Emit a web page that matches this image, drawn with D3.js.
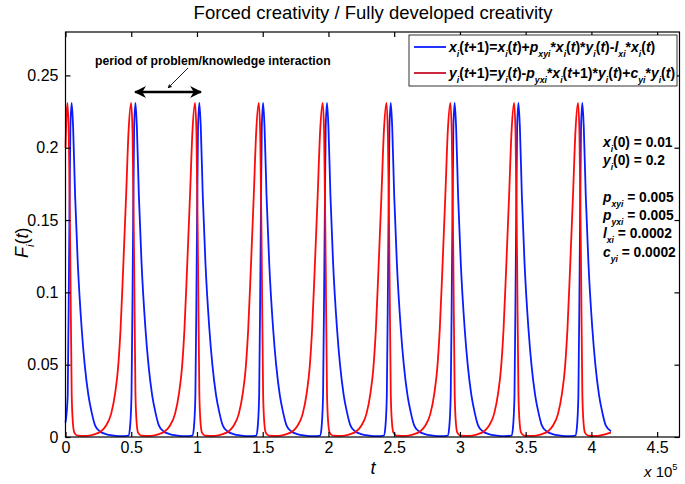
<!DOCTYPE html>
<html lang="en">
<head>
<meta charset="UTF-8" />
<title>Forced creativity</title>
<script src="https://d3js.org/d3.v7.min.js"></script>
<style>
  body { margin: 0; background: #fff; }
  svg text { font-family: "Liberation Sans", Arial, sans-serif; white-space: pre; }
</style>
</head>
<body>
<div id="graph-space"></div>
<script>
  // values, t in units of 1e5
  const redT = [
    0, 0.005, 0.014, 0.025, 0.037, 0.047, 0.056, 0.067, 0.090,
    0.164, 0.225, 0.271, 0.309, 0.347, 0.377, 0.400, 0.419, 0.438, 0.461, 0.480, 0.499, 0.510, 0.522, 0.532, 0.541, 0.552, 0.575,
    0.650, 0.711, 0.757, 0.795, 0.833, 0.863, 0.886, 0.905, 0.924, 0.947, 0.966, 0.985, 0.996, 1.008, 1.018, 1.027, 1.038, 1.061,
    1.135, 1.196, 1.242, 1.280, 1.318, 1.348, 1.371, 1.390, 1.409, 1.432, 1.451, 1.470, 1.481, 1.493, 1.503, 1.512, 1.523, 1.546,
    1.621, 1.682, 1.728, 1.766, 1.804, 1.834, 1.857, 1.876, 1.895, 1.918, 1.937, 1.956, 1.967, 1.979, 1.989, 1.998, 2.009, 2.032,
    2.106, 2.167, 2.213, 2.251, 2.289, 2.319, 2.342, 2.361, 2.380, 2.403, 2.422, 2.441, 2.452, 2.464, 2.474, 2.483, 2.494, 2.517,
    2.592, 2.653, 2.699, 2.737, 2.775, 2.805, 2.828, 2.847, 2.866, 2.889, 2.908, 2.927, 2.938, 2.950, 2.960, 2.969, 2.980, 3.003,
    3.077, 3.138, 3.184, 3.222, 3.260, 3.290, 3.313, 3.332, 3.351, 3.374, 3.393, 3.412, 3.423, 3.435, 3.445, 3.454, 3.465, 3.488,
    3.563, 3.624, 3.670, 3.708, 3.746, 3.776, 3.799, 3.818, 3.837, 3.860, 3.879, 3.898, 3.909, 3.921, 3.931, 3.940, 3.951, 3.974,
    4.049, 4.110, 4.149
  ];
  const redF = [
    0.200, 0.216, 0.231, 0.210, 0.120, 0.030, 0.010, 0.003, 0.001,
    0.0008, 0.002, 0.004, 0.008, 0.016, 0.030, 0.048, 0.075, 0.115, 0.167, 0.212, 0.231, 0.210, 0.120, 0.030, 0.010, 0.003, 0.001,
    0.0008, 0.002, 0.004, 0.008, 0.016, 0.030, 0.048, 0.075, 0.115, 0.167, 0.212, 0.231, 0.210, 0.120, 0.030, 0.010, 0.003, 0.001,
    0.0008, 0.002, 0.004, 0.008, 0.016, 0.030, 0.048, 0.075, 0.115, 0.167, 0.212, 0.231, 0.210, 0.120, 0.030, 0.010, 0.003, 0.001,
    0.0008, 0.002, 0.004, 0.008, 0.016, 0.030, 0.048, 0.075, 0.115, 0.167, 0.212, 0.231, 0.210, 0.120, 0.030, 0.010, 0.003, 0.001,
    0.0008, 0.002, 0.004, 0.008, 0.016, 0.030, 0.048, 0.075, 0.115, 0.167, 0.212, 0.231, 0.210, 0.120, 0.030, 0.010, 0.003, 0.001,
    0.0008, 0.002, 0.004, 0.008, 0.016, 0.030, 0.048, 0.075, 0.115, 0.167, 0.212, 0.231, 0.210, 0.120, 0.030, 0.010, 0.003, 0.001,
    0.0008, 0.002, 0.004, 0.008, 0.016, 0.030, 0.048, 0.075, 0.115, 0.167, 0.212, 0.231, 0.210, 0.120, 0.030, 0.010, 0.003, 0.001,
    0.0008, 0.002, 0.004, 0.008, 0.016, 0.030, 0.048, 0.075, 0.115, 0.167, 0.212, 0.231, 0.210, 0.120, 0.030, 0.010, 0.003, 0.001,
    0.0008, 0.002, 0.003
  ];
  const blueT = [
    0, 0.017, 0.027, 0.037, 0.047, 0.058, 0.073, 0.093, 0.123, 0.146, 0.174, 0.199, 0.225, 0.260, 0.306, 0.367, 0.428,
    0.479, 0.490, 0.502, 0.512, 0.522, 0.532, 0.543, 0.558, 0.578, 0.608, 0.631, 0.659, 0.684, 0.710, 0.745, 0.791, 0.852, 0.913,
    0.965, 0.976, 0.988, 0.998, 1.008, 1.018, 1.029, 1.044, 1.064, 1.094, 1.117, 1.145, 1.170, 1.196, 1.231, 1.277, 1.338, 1.399,
    1.450, 1.461, 1.473, 1.483, 1.493, 1.503, 1.514, 1.529, 1.549, 1.579, 1.602, 1.630, 1.655, 1.681, 1.716, 1.762, 1.823, 1.884,
    1.936, 1.947, 1.959, 1.969, 1.979, 1.989, 2.000, 2.015, 2.035, 2.065, 2.088, 2.116, 2.141, 2.167, 2.202, 2.248, 2.309, 2.370,
    2.421, 2.432, 2.444, 2.454, 2.464, 2.474, 2.485, 2.500, 2.520, 2.550, 2.573, 2.601, 2.626, 2.652, 2.687, 2.733, 2.794, 2.855,
    2.907, 2.918, 2.930, 2.940, 2.950, 2.960, 2.971, 2.986, 3.006, 3.036, 3.059, 3.087, 3.112, 3.138, 3.173, 3.219, 3.280, 3.341,
    3.392, 3.403, 3.415, 3.425, 3.435, 3.445, 3.456, 3.471, 3.491, 3.521, 3.544, 3.572, 3.597, 3.623, 3.658, 3.704, 3.765, 3.826,
    3.878, 3.889, 3.901, 3.911, 3.921, 3.931, 3.942, 3.957, 3.977, 4.007, 4.030, 4.058, 4.083, 4.109, 4.149
  ];
  const blueF = [
    0.010, 0.029, 0.121, 0.214, 0.231, 0.214, 0.167, 0.121, 0.075, 0.050, 0.029, 0.017, 0.008, 0.004, 0.002, 0.001, 0.0006,
    0.001, 0.006, 0.029, 0.121, 0.214, 0.231, 0.214, 0.167, 0.121, 0.075, 0.050, 0.029, 0.017, 0.008, 0.004, 0.002, 0.001, 0.0006,
    0.001, 0.006, 0.029, 0.121, 0.214, 0.231, 0.214, 0.167, 0.121, 0.075, 0.050, 0.029, 0.017, 0.008, 0.004, 0.002, 0.001, 0.0006,
    0.001, 0.006, 0.029, 0.121, 0.214, 0.231, 0.214, 0.167, 0.121, 0.075, 0.050, 0.029, 0.017, 0.008, 0.004, 0.002, 0.001, 0.0006,
    0.001, 0.006, 0.029, 0.121, 0.214, 0.231, 0.214, 0.167, 0.121, 0.075, 0.050, 0.029, 0.017, 0.008, 0.004, 0.002, 0.001, 0.0006,
    0.001, 0.006, 0.029, 0.121, 0.214, 0.231, 0.214, 0.167, 0.121, 0.075, 0.050, 0.029, 0.017, 0.008, 0.004, 0.002, 0.001, 0.0006,
    0.001, 0.006, 0.029, 0.121, 0.214, 0.231, 0.214, 0.167, 0.121, 0.075, 0.050, 0.029, 0.017, 0.008, 0.004, 0.002, 0.001, 0.0006,
    0.001, 0.006, 0.029, 0.121, 0.214, 0.231, 0.214, 0.167, 0.121, 0.075, 0.050, 0.029, 0.017, 0.008, 0.004, 0.002, 0.001, 0.0006,
    0.001, 0.006, 0.029, 0.121, 0.214, 0.231, 0.214, 0.167, 0.121, 0.075, 0.050, 0.029, 0.017, 0.008, 0.004
  ];
  const xTicks = [0, 0.5, 1, 1.5, 2, 2.5, 3, 3.5, 4, 4.5];
  const yTicks = [0, 0.05, 0.1, 0.15, 0.2, 0.25];
  const legendLabels = [
    "x_{i}(t+1)=x_{i}(t)+p_{xyi}*x_{i}(t)*y_{i}(t)-l_{xi}*x_{i}(t)",
    "y_{i}(t+1)=y_{i}(t)-p_{yxi}*x_{i}(t+1)*y_{i}(t)+c_{yi}*y_{i}(t)"
  ];
  const paramLabels = ["x_{i}(0) = 0.01", "y_{i}(0) = 0.2", "p_{xyi} = 0.005", "p_{yxi} = 0.005", "l_{xi} = 0.0002", "c_{yi} = 0.0002"];

  const width = 685, height = 484;
  const margin = { left: 65.5, top: 32, right: 5.5, bottom: 47 };
  const blue = "#0a1cff", red = "#ff0a0a";

  const svg = d3.select("#graph-space").append("svg")
    .attr("width", width).attr("height", height);

  const xScale = d3.scaleLinear().domain([0, 4.67]).range([margin.left, width - margin.right]);
  const yScale = d3.scaleLinear().domain([0, 0.28]).range([height - margin.bottom, margin.top]);

  // small helper: _{..} subscript, ^{..} superscript, letters in italic
  function rich(sel, x, y, str, size, weight) {
    const t = sel.append("text").attr("x", x).attr("y", y)
      .attr("font-size", size).attr("font-weight", weight || "normal");
    const re = /_\{([^}]*)\}|\^\{([^}]*)\}|[A-Za-z]+|[^A-Za-z_^]+/g;
    let m;
    while ((m = re.exec(str))) {
      const ts = t.append("tspan");
      if (m[1] !== undefined) {
        ts.text(m[1]).attr("y", y + size * 0.35).attr("font-size", size * 0.62).attr("font-style", "italic");
      } else if (m[2] !== undefined) {
        ts.text(m[2]).attr("y", y - size * 0.45).attr("font-size", size * 0.62);
      } else {
        ts.text(m[0]).attr("y", y);
        if (/[A-Za-z]/.test(m[0])) ts.attr("font-style", "italic");
      }
    }
    return t;
  }

  // curves
  const line = d3.line().x(d => xScale(d[0])).y(d => yScale(d[1])).curve(d3.curveMonotoneX);
  svg.append("path").datum(d3.zip(blueT, blueF))
    .attr("d", line).attr("fill", "none").attr("stroke", blue).attr("stroke-width", 1.8);
  svg.append("path").datum(d3.zip(redT, redF))
    .attr("d", line).attr("fill", "none").attr("stroke", red).attr("stroke-width", 1.8);

  // axes, MATLAB style ticks pointing inward
  const ax = [
    svg.append("g").attr("transform", `translate(0,${height - margin.bottom})`)
      .call(d3.axisBottom(xScale).tickValues(xTicks).tickSize(-5).tickPadding(5).tickFormat(d3.format("~g"))),
    svg.append("g").attr("transform", `translate(0,${margin.top})`)
      .call(d3.axisTop(xScale).tickValues(xTicks).tickSize(-5).tickFormat("")),
    svg.append("g").attr("transform", `translate(${margin.left},0)`)
      .call(d3.axisLeft(yScale).tickValues(yTicks).tickSize(-5).tickPadding(7).tickFormat(d3.format("~g"))),
    svg.append("g").attr("transform", `translate(${width - margin.right},0)`)
      .call(d3.axisRight(yScale).tickValues(yTicks).tickSize(-5).tickFormat(""))
  ];
  ax.forEach(g => {
    g.select(".domain").remove();
    g.selectAll("line").attr("stroke-width", 1.2);
    g.selectAll("text").attr("font-size", 16).attr("font-family", "Liberation Sans, Arial, sans-serif").attr("fill", "#000");
  });
  svg.append("rect")
    .attr("x", margin.left).attr("y", margin.top)
    .attr("width", width - margin.left - margin.right)
    .attr("height", height - margin.top - margin.bottom)
    .attr("fill", "none").attr("stroke", "#000").attr("stroke-width", 1.2);

  // title and axis labels
  svg.append("text").attr("x", 373).attr("y", 19).attr("text-anchor", "middle")
    .attr("font-size", 18.5).text("Forced creativity / Fully developed creativity");
  svg.append("text").attr("x", 373).attr("y", 474).attr("text-anchor", "middle")
    .attr("font-size", 18).attr("font-style", "italic").text("t");
  rich(svg, 644, 477, "x 10^{5}", 15);
  const yl = rich(svg, 0, 0, "F_{i}(t)", 18);
  yl.attr("transform", "translate(28,258) rotate(-90)");

  // legend
  const lg = svg.append("g");
  lg.append("rect").attr("x", 409).attr("y", 35).attr("width", 268).attr("height", 51)
    .attr("fill", "#fff").attr("stroke", "#000").attr("stroke-width", 0.8);
  [blue, "#c8102a"].forEach((c, i) => {
    lg.append("line").attr("x1", 414).attr("x2", 446).attr("y1", 47 + i * 26).attr("y2", 47 + i * 26)
      .attr("stroke", c).attr("stroke-width", 1.8);
    rich(lg, 449, 52 + i * 26, legendLabels[i], 14, "bold");
  });

  // parameter block
  const paramY = [147, 165, 202, 220, 238, 257];
  paramLabels.forEach((s, i) => rich(svg, 603, paramY[i], s, 13.8, "bold"));

  // annotation with arrows
  const defs = svg.append("defs");
  defs.append("marker").attr("id", "head").attr("viewBox", "0 0 10 10")
    .attr("refX", 9).attr("refY", 5).attr("markerWidth", 5).attr("markerHeight", 5)
    .attr("markerUnits", "strokeWidth").attr("orient", "auto-start-reverse")
    .append("path").attr("d", "M0,0 L10,5 L0,10 L3,5 Z").attr("fill", "#000");
  svg.append("text").attr("x", 95).attr("y", 65).attr("font-size", 12.2).attr("font-weight", "bold")
    .text("period of problem/knowledge interaction");
  svg.append("line").attr("x1", xScale(0.53)).attr("x2", xScale(1.03)).attr("y1", 92).attr("y2", 92)
    .attr("stroke", "#000").attr("stroke-width", 2.4)
    .attr("marker-start", "url(#head)").attr("marker-end", "url(#head)");
  svg.append("line").attr("x1", 188).attr("y1", 68).attr("x2", 168).attr("y2", 88)
    .attr("stroke", "#000").attr("stroke-width", 0.9).attr("marker-end", "url(#head)");
</script>
</body>
</html>
